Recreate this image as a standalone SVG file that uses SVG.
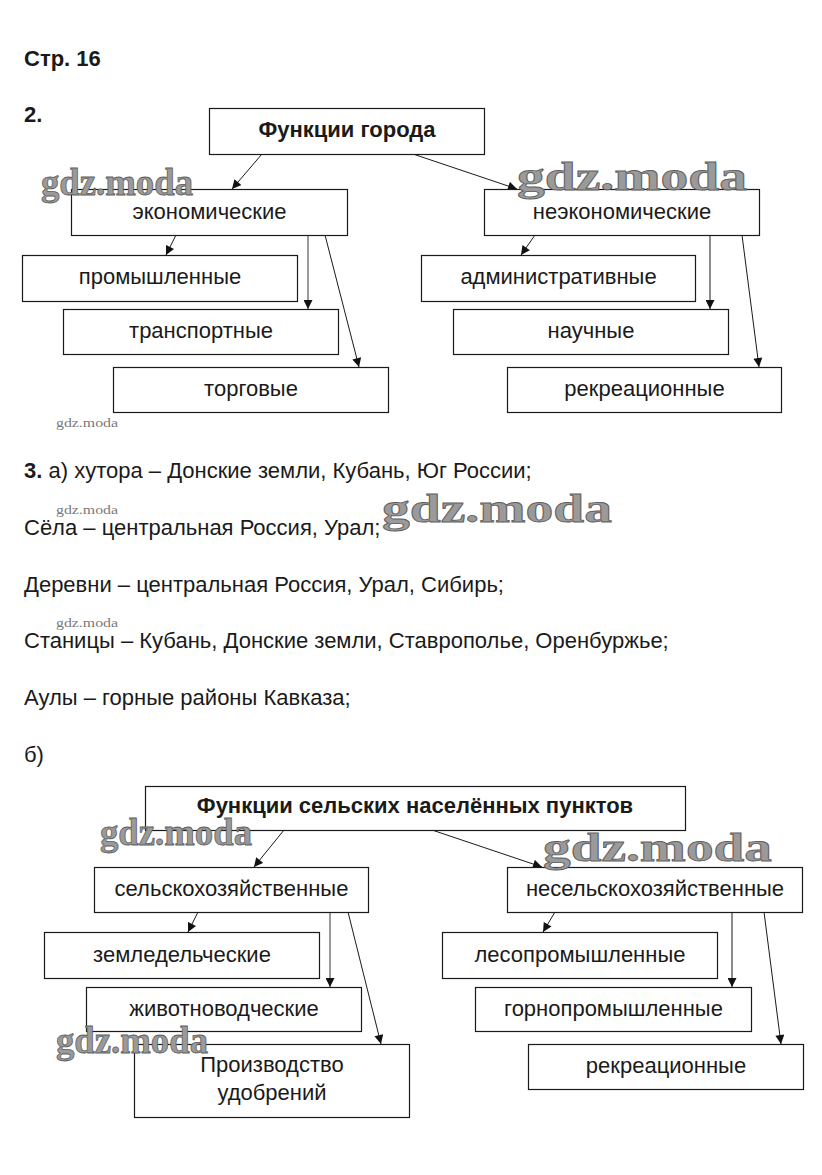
<svg xmlns="http://www.w3.org/2000/svg" width="822" height="1175" viewBox="0 0 822 1175">
<style>
.bg{fill:#fff}
.box{fill:#fff;stroke:#1a1a1a;stroke-width:1.2}
.t{font-family:"Liberation Sans",Arial,sans-serif;font-size:22px;fill:#1a1a1a}
.c{text-anchor:middle}
.b{font-weight:bold}
.ln{stroke:#1a1a1a;stroke-width:1;fill:none;marker-end:url(#ah)}
.gr{stroke:#9a9a9a;stroke-width:2;fill:none;marker-end:url(#ah)}
.wm{font-family:"Liberation Serif","Times New Roman",serif;font-weight:bold;fill:#9a9a9a;stroke:#5e5e5e;stroke-width:0.8}
.ws{font-family:"Liberation Serif","Times New Roman",serif;font-size:13px;fill:#7a7a7a}
</style>
<defs>
<marker id="ah" viewBox="0 0 10 10" refX="10" refY="5" markerWidth="10" markerHeight="9" markerUnits="userSpaceOnUse" orient="auto">
<path d="M0,0 L10,5 L0,10 z" fill="#111"/>
</marker>
</defs>
<rect class="bg" x="0" y="0" width="822" height="1175"/>

<g id="texts">
<text class="t b" x="24" y="66" font-size="21.5">Стр. 16</text>
<text class="t b" x="24" y="122">2.</text>
<text class="t" x="24" y="478"><tspan class="b">3.</tspan> а) хутора – Донские земли, Кубань, Юг России;</text>
<text class="t" x="24" y="535">Сёла – центральная Россия, Урал;</text>
<text class="t" x="24" y="592">Деревни – центральная Россия, Урал, Сибирь;</text>
<text class="t" x="24" y="648">Станицы – Кубань, Донские земли, Ставрополье, Оренбуржье;</text>
<text class="t" x="24" y="705">Аулы – горные районы Кавказа;</text>
<text class="t" x="24" y="762">б)</text>
</g>

<g id="connectors">
<line class="ln" x1="262" y1="154" x2="232" y2="189"/>
<line class="ln" x1="413" y1="154" x2="517" y2="189"/>
<line class="ln" x1="176" y1="235" x2="166" y2="255"/>
<line class="gr" x1="308" y1="235" x2="308" y2="309"/>
<line class="ln" x1="325" y1="235" x2="359" y2="367"/>
<line class="ln" x1="535" y1="235" x2="521" y2="255"/>
<line class="ln" x1="710" y1="235" x2="710" y2="309"/>
<line class="ln" x1="742" y1="235" x2="759" y2="367"/>
<line class="ln" x1="284" y1="830" x2="254" y2="867"/>
<line class="ln" x1="432" y1="830" x2="542" y2="867"/>
<line class="ln" x1="198" y1="912" x2="188" y2="932"/>
<line class="gr" x1="330" y1="912" x2="330" y2="987"/>
<line class="ln" x1="348" y1="912" x2="381" y2="1044"/>
<line class="ln" x1="555" y1="912" x2="543" y2="932"/>
<line class="ln" x1="732" y1="912" x2="732" y2="987"/>
<line class="ln" x1="764" y1="912" x2="781" y2="1044"/>
</g>

<g id="n-city"><rect class="box" x="209.5" y="108.5" width="275" height="46"/><text class="t c b" x="347" y="137">Функции города</text></g>
<g id="n-econ"><rect class="box" x="71.5" y="189.5" width="276" height="46"/><text class="t c" x="209.5" y="219">экономические</text></g>
<g id="n-nonecon"><rect class="box" x="484.5" y="189.5" width="275" height="46"/><text class="t c" x="622" y="219">неэкономические</text></g>
<g id="n-prom"><rect class="box" x="22.5" y="255.5" width="275" height="46"/><text class="t c" x="160" y="284">промышленные</text></g>
<g id="n-trans"><rect class="box" x="63.5" y="309.5" width="275" height="45"/><text class="t c" x="201" y="338">транспортные</text></g>
<g id="n-trade"><rect class="box" x="113.5" y="367.5" width="275" height="45"/><text class="t c" x="251" y="396">торговые</text></g>
<g id="n-admin"><rect class="box" x="421.5" y="255.5" width="274" height="46"/><text class="t c" x="558.5" y="284">административные</text></g>
<g id="n-sci"><rect class="box" x="453.5" y="309.5" width="275" height="45"/><text class="t c" x="591" y="338">научные</text></g>
<g id="n-rec"><rect class="box" x="507.5" y="367.5" width="274" height="45"/><text class="t c" x="644.5" y="396">рекреационные</text></g>

<g id="n-rural"><rect class="box" x="145.5" y="786.5" width="540" height="44"/><text class="t c b" x="415" y="813">Функции сельских населённых пунктов</text></g>
<g id="n-agri"><rect class="box" x="94.5" y="867.5" width="274" height="45"/><text class="t c" x="231.5" y="896">сельскохозяйственные</text></g>
<g id="n-nonagri"><rect class="box" x="507.5" y="867.5" width="295" height="45"/><text class="t c" x="655" y="896">несельскохозяйственные</text></g>
<g id="n-zemled"><rect class="box" x="44.5" y="932.5" width="275" height="46"/><text class="t c" x="182" y="962">земледельческие</text></g>
<g id="n-zhivot"><rect class="box" x="86.5" y="987.5" width="275" height="44"/><text class="t c" x="224" y="1016">животноводческие</text></g>
<g id="n-udobr"><rect class="box" x="134.5" y="1044.5" width="275" height="73"/><text class="t c" x="272" y="1072">Производство</text><text class="t c" x="272" y="1100">удобрений</text></g>
<g id="n-les"><rect class="box" x="442.5" y="932.5" width="275" height="46"/><text class="t c" x="580" y="962">лесопромышленные</text></g>
<g id="n-gorn"><rect class="box" x="475.5" y="987.5" width="276" height="44"/><text class="t c" x="613.5" y="1016">горнопромышленные</text></g>
<g id="n-rec2"><rect class="box" x="528.5" y="1044.5" width="275" height="45"/><text class="t c" x="666" y="1073">рекреационные</text></g>

<g id="watermarks">
<text class="wm" x="41" y="195" font-size="38" textLength="152" lengthAdjust="spacingAndGlyphs">gdz.moda</text>
<text class="wm" x="517" y="190" font-size="40" textLength="230" lengthAdjust="spacingAndGlyphs">gdz.moda</text>
<text class="wm" x="382" y="522" font-size="40" textLength="230" lengthAdjust="spacingAndGlyphs">gdz.moda</text>
<text class="wm" x="100" y="845" font-size="38" textLength="152" lengthAdjust="spacingAndGlyphs">gdz.moda</text>
<text class="wm" x="543" y="861" font-size="40" textLength="229" lengthAdjust="spacingAndGlyphs">gdz.moda</text>
<text class="wm" x="56" y="1053" font-size="38" textLength="152" lengthAdjust="spacingAndGlyphs">gdz.moda</text>
<text class="ws" x="56" y="427" textLength="62" lengthAdjust="spacingAndGlyphs">gdz.moda</text>
<text class="ws" x="56" y="514" textLength="62" lengthAdjust="spacingAndGlyphs">gdz.moda</text>
<text class="ws" x="56" y="627" textLength="62" lengthAdjust="spacingAndGlyphs">gdz.moda</text>
</g>
</svg>
